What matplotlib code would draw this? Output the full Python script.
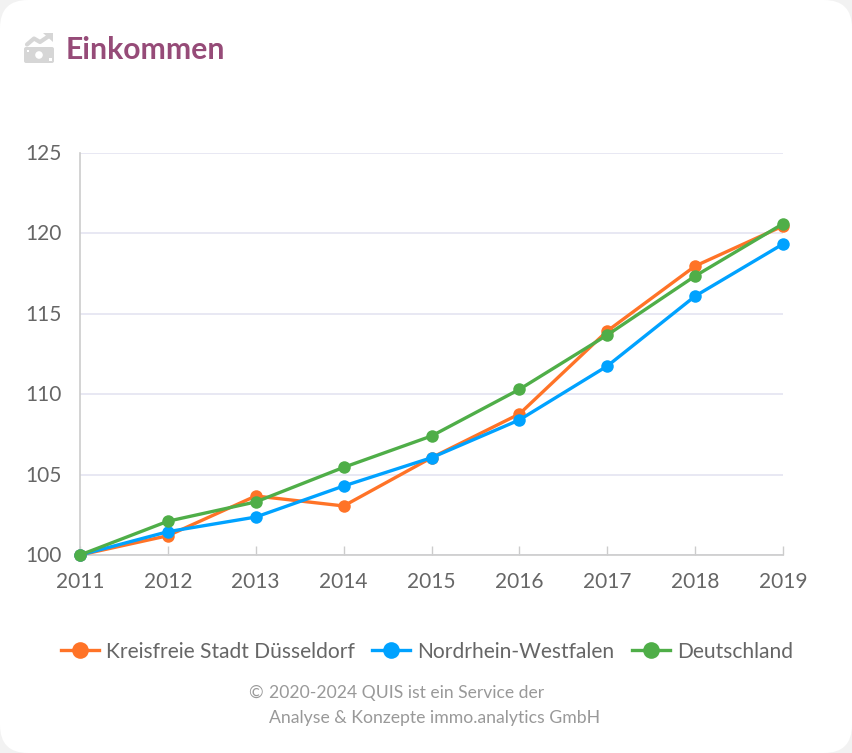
import matplotlib.pyplot as plt
from matplotlib.patches import FancyBboxPatch, Rectangle, Circle, Polygon
from matplotlib.lines import Line2D
from matplotlib.transforms import ScaledTranslation

plt.rcParams['font.family'] = ['Lato', 'DejaVu Sans']

years = [2011, 2012, 2013, 2014, 2015, 2016, 2017, 2018, 2019]
duesseldorf = [100, 101.2, 103.67, 103.05, 106.05, 108.77, 113.93, 117.97, 120.46]
nrw = [100, 101.45, 102.36, 104.29, 106.05, 108.4, 111.75, 116.1, 119.34]
deutschland = [100, 102.1, 103.3, 105.45, 107.4, 110.3, 113.68, 117.35, 120.6]
y_ticks = [100, 105, 110, 115, 120, 125]

W, H = 852, 753
fig = plt.figure(figsize=(W / 100, H / 100), dpi=100, facecolor='#f2f2f2')

# whole picture in pixel coordinates, for the card, icon and texts
bg = fig.add_axes([0, 0, 1, 1])
bg.set_xlim(0, W)
bg.set_ylim(H, 0)
bg.axis('off')
bg.add_patch(FancyBboxPatch((0, 0), W, H, boxstyle='round,pad=0,rounding_size=28',
                            fc='white', ec='none'))

# icon: bank note with an arrow going up
grey = '#d6d6d6'
bg.add_patch(FancyBboxPatch((24, 47), 30, 16, boxstyle='round,pad=0,rounding_size=2', fc=grey, ec='none'))
bg.add_patch(Circle((39, 55), 3.8, fc='white', ec='none'))
bg.add_patch(Rectangle((26.5, 49.5), 2.5, 2.5, fc='white', ec='none'))
bg.add_patch(Rectangle((49, 58), 2.5, 2.5, fc='white', ec='none'))
bg.plot([27, 34, 40, 49], [44.5, 38.5, 42, 36], color=grey, lw=3, solid_capstyle='round')
bg.add_patch(Polygon([(43, 32.5), (52.5, 32.5), (52.5, 42)], fc=grey, ec='none'))

bg.text(66, 49.5, 'Einkommen', color='#964B78', fontsize=21.7, fontweight='bold', va='center', ha='left')

# plot area
x0, x1, y_top, y_bot = 80, 783, 153, 555
ax = fig.add_axes([x0 / W, 1 - y_bot / H, (x1 - x0) / W, (y_bot - y_top) / H])
ax.patch.set_alpha(0)
ax.set_xlim(2011, 2019)
ax.set_ylim(100, 125)
for s in ['top', 'right']:
    ax.spines[s].set_visible(False)
for s in ['left', 'bottom']:
    ax.spines[s].set_color('#cccccc')
    ax.spines[s].set_linewidth(1.2)
ax.set_xticks(years)
ax.set_yticks(y_ticks)
ax.tick_params(axis='x', length=6.5, direction='in', color='#cccccc', width=1,
               labelsize=15, labelcolor='#666666', pad=12.5)
ax.tick_params(axis='y', length=0, labelsize=15, labelcolor='#666666', pad=13)
# y labels sit a little above their grid lines
up = ScaledTranslation(0, 1 / 100, fig.dpi_scale_trans)
for lab in ax.get_yticklabels():
    lab.set_transform(lab.get_transform() + up)
ax.grid(axis='y', color='#e2e2f0', lw=1.1)
ax.set_axisbelow(True)

colors = ['#ff7327', '#00a2ff', '#4fae48']
for vals, c in zip([duesseldorf, nrw, deutschland], colors):
    ax.plot(years, vals, color=c, lw=2.4, marker='o', ms=9, mew=0, clip_on=False, zorder=3)

# legend, by hand so the spacing follows the picture
names = ['Kreisfreie Stadt Düsseldorf', 'Nordrhein-Westfalen', 'Deutschland']
starts = [61, 372, 632]
text_x = [106.5, 417, 677]
for name, c, sx, tx in zip(names, colors, starts, text_x):
    bg.add_line(Line2D([sx, sx + 38], [650, 650], color=c, lw=2.4))
    bg.add_line(Line2D([sx + 19], [650], color=c, marker='o', ms=12, mew=0))
    bg.text(tx, 651.5, name, color='#666666', fontsize=15.1, va='center', ha='left')

bg.text(248, 693, '©', color='#999999', fontsize=12.7, va='center', ha='left')
bg.text(269, 693, '2020-2024 QUIS ist ein Service der', color='#999999', fontsize=12.6, va='center', ha='left')
bg.text(269, 718, 'Analyse & Konzepte immo.analytics GmbH', color='#999999', fontsize=12.7, va='center', ha='left')

fig.savefig('out.png', dpi=100, facecolor=fig.get_facecolor())
